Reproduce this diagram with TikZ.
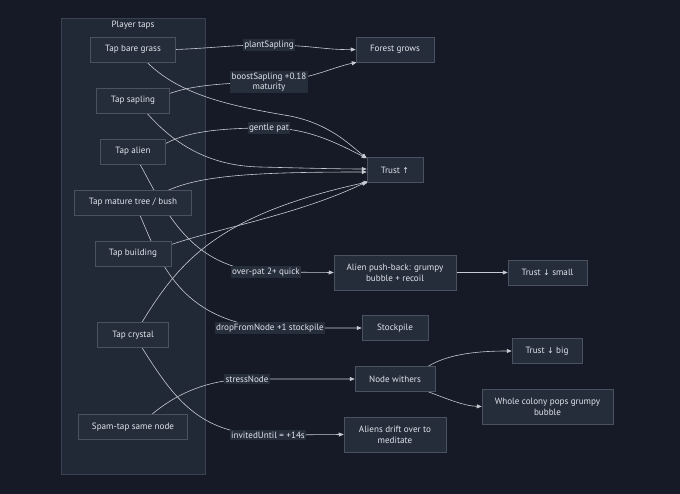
\documentclass[tikz,border=0pt]{standalone}
\usepackage{fontspec}
\setmainfont{PT Sans}
\newfontfamily\symfont{DejaVu Sans}
\usetikzlibrary{arrows.meta}
\definecolor{bgdark}{HTML}{151A26}
\definecolor{groupfill}{HTML}{222936}
\definecolor{groupline}{HTML}{3A4252}
\definecolor{boxfill}{HTML}{252C3A}
\definecolor{boxline}{HTML}{4A5262}
\definecolor{txt}{HTML}{E1E5EC}
\definecolor{wire}{HTML}{C6CAD2}
\definecolor{tagfill}{HTML}{262D3B}
\pgfdeclarelayer{back}
\pgfdeclarelayer{edges}
\pgfsetlayers{back,edges,main}
\newcommand{\upar}{{\symfont\fontsize{8}{10}\selectfont ↑}}
\newcommand{\downar}{{\symfont\fontsize{8}{10}\selectfont ↓}}

\begin{document}
\begin{tikzpicture}[x=1pt,y=-1pt,
  font=\fontsize{9.1}{11.2}\selectfont,
  box/.style={draw=boxline,fill=boxfill,text=txt,line width=0.5pt,minimum height=25pt,inner sep=2pt,align=center},
  tag/.style={fill=tagfill,text=txt,inner sep=1.5pt,align=center,font=\fontsize{9.1}{10.3}\selectfont},
  wireto/.style={draw=wire,line width=0.6pt,-{Triangle[length=5pt,width=4pt]}}]

\useasboundingbox (0,0) rectangle (680,494);

\begin{pgfonlayer}{back}
  \fill[bgdark] (0,0) rectangle (680,494);
  \draw[groupline,fill=groupfill,line width=0.5pt] (61,18) rectangle (205,474);
\end{pgfonlayer}
\node[text=txt] (title) at (133,25) {Player taps};

% player taps
\node[box,minimum width=85pt] (grass) at (133,49.5) {Tap bare grass};
\node[box,minimum width=73pt] (sapling) at (133,100.5) {Tap sapling};
\node[box,minimum width=65pt] (alien) at (133,151.5) {Tap alien};
\node[box,minimum width=117pt] (mature) at (133,202.5) {Tap mature tree / bush};
\node[box,minimum width=76pt] (building) at (133,253.5) {Tap building};
\node[box,minimum width=71pt] (crystal) at (133,335) {Tap crystal};
\node[box,minimum width=109pt] (spam) at (133,427) {Spam-tap same node};

% outcomes
\node[box,minimum width=78pt] (forest) at (395,49.5) {Forest grows};
\node[box,minimum width=56pt] (trustup) at (395,170) {Trust \upar};
\node[box,minimum width=122pt,minimum height=35pt] (pushback) at (395,272.5) {Alien push-back: grumpy\\bubble + recoil};
\node[box,minimum width=79pt] (trustsmall) at (547.5,272.5) {Trust \downar{} small};
\node[box,minimum width=66pt] (stockpile) at (395,328) {Stockpile};
\node[box,minimum width=80pt] (withers) at (395,379) {Node withers};
\node[box,minimum width=70pt] (trustbig) at (547,351) {Trust \downar{} big};
\node[box,minimum width=131pt,minimum height=35pt] (colony) at (547.5,406.5) {Whole colony pops grumpy\\bubble};
\node[box,minimum width=102pt,minimum height=35pt] (drift) at (395,434.5) {Aliens drift over to\\meditate};

% edge labels
\node[tag] (lplant) at (269,45) {plantSapling};
\node[tag] (lboost) at (269,82) {boostSapling +0.18\\maturity};
\node[tag] (lpat) at (269,128) {gentle pat};
\node[tag] (lover) at (266,272) {over-pat 2+ quick};
\node[tag] (ldrop) at (270,328) {dropFromNode +1 stockpile};
\node[tag] (lstress) at (247,379) {stressNode};
\node[tag] (linvite) at (268,435) {invitedUntil = +14s};

\begin{pgfonlayer}{edges}
  \draw[wireto] (grass.east) .. controls (215,48) and (230,45) .. (lplant.center)
    .. controls (310,45) and (325,50) .. (forest.west);
  \draw[wireto] ([xshift=14pt]grass.south) .. controls (180,95) and (230,106) .. (290,116)
    .. controls (330,124) and (350,145) .. ([yshift=-1pt]trustup.north west);
  \draw[wireto] ([yshift=7pt]sapling.east) .. controls (190,86) and (220,83) .. (lboost.center)
    .. controls (310,80) and (330,68) .. ([xshift=1pt]forest.south west);
  \draw[wireto] ([xshift=14pt]sapling.south) .. controls (175,145) and (210,166) .. (260,167)
    .. controls (300,168) and (340,169) .. ([yshift=1pt]trustup.west);
  \draw[wireto] ([yshift=8pt]alien.east) .. controls (190,130) and (230,128) .. (lpat.center)
    .. controls (310,128) and (340,145) .. ([yshift=-1pt]trustup.north west);
  \draw[wireto] ([xshift=7pt]alien.south) .. controls (165,210) and (190,268) .. (lover.center)
    -- (pushback.west);
  \draw[wireto] ([yshift=12pt,xshift=-24pt]mature.east) .. controls (200,176) and (250,172) .. ([yshift=-2pt]trustup.west);
  \draw[wireto] ([xshift=7pt]mature.south) .. controls (160,262) and (180,320) .. (ldrop.center)
    -- (stockpile.west);
  \draw[wireto] ([yshift=9pt]building.east) .. controls (220,228) and (300,214) .. ([yshift=1pt]trustup.south west);
  \draw[wireto] ([xshift=9pt]crystal.north) .. controls (180,260) and (220,214) .. ([xshift=2pt,yshift=1pt]trustup.south west);
  \draw[wireto] ([xshift=9pt]crystal.south) .. controls (175,400) and (200,434) .. (linvite.center)
    -- (drift.west);
  \draw[wireto] ([xshift=19pt]spam.north) .. controls (175,395) and (205,380) .. (lstress.center)
    -- (withers.west);
  \draw[wireto] (pushback.east) -- (trustsmall.west);
  \draw[wireto] ([xshift=-7pt]withers.north east) .. controls (445,356) and (470,351) .. (trustbig.west);
  \draw[wireto] ([xshift=-7pt]withers.south east) .. controls (450,400) and (465,406) .. (colony.west);
\end{pgfonlayer}

\end{tikzpicture}
\end{document}
